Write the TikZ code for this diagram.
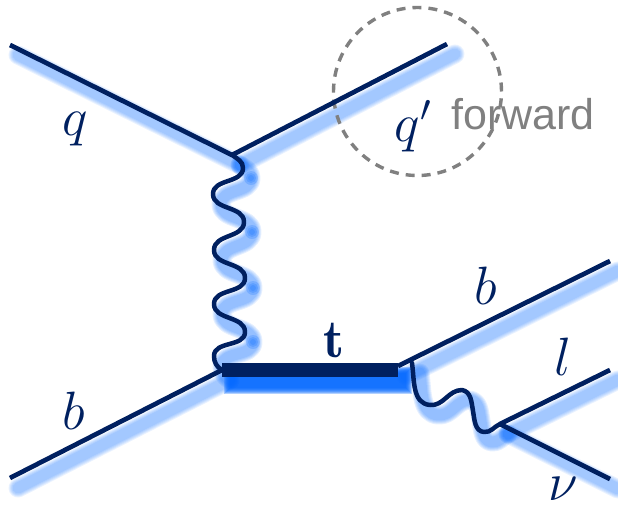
\documentclass[tikz,border=0pt]{standalone}
\usepackage{fix-cm}
\usepackage{fontspec}
\usetikzlibrary{calc}
\newfontfamily\labelsans{Liberation Sans}
\definecolor{navy}{RGB}{0,32,96}
\definecolor{glow}{RGB}{0,102,255}
\definecolor{ringgray}{RGB}{128,128,128}
\tikzset{
  fermion/.style={draw=navy,line width=4.7pt,line cap=butt,line join=round},
  heavy/.style={draw=navy,line width=13.5pt,line cap=butt},
  boson/.style={draw=navy,line width=4.5pt,line cap=round,line join=round},
  mathlabel/.style={text=navy,inner sep=0pt,font=\fontsize{54}{64}\selectfont},
  ring/.style={draw=ringgray,line width=3.4pt,dash pattern=on 9pt off 7pt},
  forwardtext/.style={text=ringgray,inner sep=0pt,font=\labelsans\fontsize{43}{50}\selectfont},
  glowlayer/.style={transform canvas={shift={(8pt,-10pt)}},draw=glow,fill=glow,line join=round}
}
% soft shadow: a stack of translucent strokes
\newcommand{\softglow}[2]{%
  \begin{scope}[glowlayer,line cap=round]
    \foreach \w in {19,17,15,13,11}{
      \draw[line width=\w pt,draw opacity=#1] #2;
    }
  \end{scope}}
\begin{document}
\begin{tikzpicture}[x=1pt,y=-1pt]
\useasboundingbox (0,0) rectangle (618,504);
% vertices and ends
\coordinate (qin) at (10,45);
\coordinate (vtop) at (232,155);
\coordinate (qout) at (447,44);
\coordinate (bin) at (10,478);
\coordinate (vbot) at (222,370);
\coordinate (vtr) at (398,370);
\coordinate (bstart) at (398,366);
\coordinate (bout) at (610,261);
\coordinate (wstart) at (412,363);
\coordinate (vw) at (500,424);
\coordinate (lout) at (610,370);
\coordinate (nuout) at (610,479);
% boson extremes
\coordinate (g1) at (243,168);
\coordinate (g2) at (213,194);
\coordinate (g3) at (244,222);
\coordinate (g4) at (214,250);
\coordinate (g5) at (245,278);
\coordinate (g6) at (214,304);
\coordinate (g7) at (245,332);
\coordinate (g8) at (214,356);
\coordinate (w1) at (430,405);
\coordinate (w2) at (462,390);
\coordinate (w3) at (484,432);
\def\gluon{(vtop) to[out=-35,in=90] (g1) to[out=-90,in=90] (g2) to[out=-90,in=90] (g3) to[out=-90,in=90] (g4) to[out=-90,in=90] (g5) to[out=-90,in=90] (g6) to[out=-90,in=90] (g7) to[out=-90,in=90] (g8) to[out=-90,in=150] (vbot)}
\def\wboson{(wstart) to[out=-82,in=175] (w1) to[out=-5,in=180] (w2) to[out=-10,in=100] ($(w2)!.5!(w3)$) to[out=-80,in=175] (w3) to[out=-5,in=205] (vw)}
% shadows
\softglow{0.085}{(qin) -- (vtop)}
\softglow{0.085}{(vtop) -- (qout)}
\softglow{0.085}{(bin) -- (vbot)}
\softglow{0.085}{(bstart) -- (bout)}
\softglow{0.085}{(vw) -- (lout)}
\softglow{0.085}{(vw) -- (nuout)}
\softglow{0.1}{\gluon}
\softglow{0.1}{\wboson}
% denser glow at the outer bends of the bosons
\begin{scope}[glowlayer]
  \foreach \p in {g1,g3,g5,g7}{
    \foreach \r in {3,5,7}{
      \fill[fill opacity=0.2] (\p) circle[radius=\r pt];
    }
  }
  \foreach \w/\e in {27/6,25/5,23/4,21/3,19/2,17/1,15/0}{
    \draw[line width=\w pt,draw opacity=0.3,line cap=butt,shorten <=-\e pt,shorten >=-\e pt] (vbot) -- (vtr);
  }
\end{scope}
% ring
\node[ring,circle,minimum size=168pt,inner sep=0pt] (fwd) at (417.5,91.5) {};
% lines
\draw[fermion] (qin) -- (vtop);
\draw[fermion] (vtop) -- (qout);
\draw[fermion] (bin) -- (vbot);
\draw[fermion] (bstart) -- (bout);
\draw[fermion] (vw) -- (lout);
\draw[fermion] (vw) -- (nuout);
\draw[boson] \gluon;
\draw[boson] \wboson;
\draw[heavy] (vbot) -- (vtr);
% labels
\node[mathlabel] (lq) at (75.5,129.5) {$q$};
\node[mathlabel] (lqp) at (413,126) {$q'$};
\node[forwardtext,anchor=base west] (lf) at (451,129) {forward};
\node[mathlabel] (lt) at (334,341) {$\mathbf{t}$};
\node[mathlabel] (lb1) at (486,286) {$b$};
\node[mathlabel] (lb2) at (74,411) {$b$};
\node[mathlabel] (ll) at (563,357) {$l$};
\node[mathlabel] (lnu) at (563,489) {$\nu$};
\end{tikzpicture}
\end{document}
